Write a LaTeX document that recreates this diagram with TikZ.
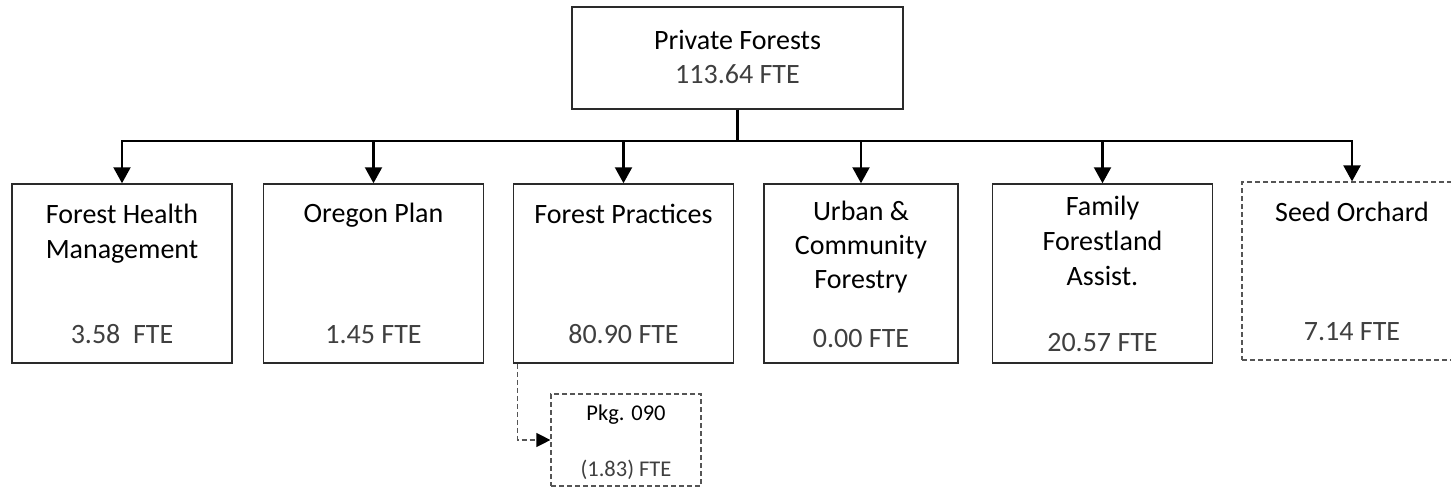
\documentclass[tikz,border=0pt]{standalone}
\usepackage{fontspec}
\setmainfont{Carlito}
\usetikzlibrary{arrows.meta}
\definecolor{ftegray}{HTML}{3F3F3F}
\definecolor{edgegray}{HTML}{2A2A2A}
\definecolor{dashgray}{HTML}{555555}
\begin{document}
\begin{tikzpicture}[x=1pt,y=-1pt,
  box/.style={draw=edgegray,line width=1.5pt,minimum width=220pt,minimum height=179pt,inner sep=0pt},
  dbox/.style={box,draw=dashgray,line width=1.2pt,dash pattern=on 5pt off 3pt},
  ttl/.style={font=\fontsize{28}{34}\selectfont,anchor=base,text=black,inner sep=0pt},
  fte/.style={ttl,text=ftegray},
  sttl/.style={font=\fontsize{22.5}{27}\selectfont,anchor=base,text=black,inner sep=0pt},
  sfte/.style={sttl,text=ftegray},
  conn/.style={line width=2.2pt,-{Triangle[length=16pt,width=17pt]}},
  dconn/.style={draw=dashgray,line width=1.3pt,dash pattern=on 5pt off 3pt,-{Triangle[length=14pt,width=14pt,color=black]}},
]
\useasboundingbox (0,0) rectangle (1451,487);

% top box
\node[box,minimum width=331pt,minimum height=102pt] (top) at (737.5,58) {};
\node[ttl] (topa) at (737.5,50) {Private Forests};
\node[fte] (topb) at (737.5,84) {113.64 FTE};

% children
\node[box] (b1) at (122,273.5) {};
\node[box] (b2) at (373.5,273.5) {};
\node[box] (b3) at (623.5,273.5) {};
\node[box,minimum width=194pt] (b4) at (861,273.5) {};
\node[box] (b5) at (1102.5,273.5) {};
\node[dbox,minimum height=178pt] (b6) at (1352,271) {};

% texts
\node[ttl] (t1a) at (122,223) {Forest Health};
\node[ttl] (t1b) at (122,258) {Management};
\node[fte] (t1c) at (122,343) {3.58\ \ FTE};

\node[ttl] (t2a) at (373.5,222) {Oregon Plan};
\node[fte] (t2c) at (373.5,343) {1.45 FTE};

\node[ttl] (t3a) at (623.5,223) {Forest Practices};
\node[fte] (t3c) at (623.5,343) {80.90 FTE};

\node[ttl] (t4a) at (861,220) {Urban \&};
\node[ttl] (t4b) at (861,254) {Community};
\node[ttl] (t4c) at (861,288) {Forestry};
\node[fte] (t4d) at (861,347) {0.00 FTE};

\node[ttl] (t5a) at (1102.5,215) {Family};
\node[ttl] (t5b) at (1102.5,250) {Forestland};
\node[ttl] (t5c) at (1102.5,285) {Assist.};
\node[fte] (t5d) at (1102.5,351) {20.57 FTE};

\node[ttl] (t6a) at (1352,221) {Seed Orchard};
\node[fte] (t6c) at (1352,340) {7.14 FTE};

% package box
\node[dbox,minimum width=150pt,minimum height=92pt] (pkg) at (626,440) {};
\node[sttl] (pa) at (626,420) {Pkg. 090};
\node[sfte] (pb) at (626,476) {(1.83) FTE};

% connectors
\foreach \c in {b1,b2,b3,b4,b5,b6}{
  \draw[conn] (top.south) -- ++(0,31) -| (\c.north);
}
\draw[dconn] ([xshift=5pt]b3.south west) |- (pkg.west);
\end{tikzpicture}
\end{document}
